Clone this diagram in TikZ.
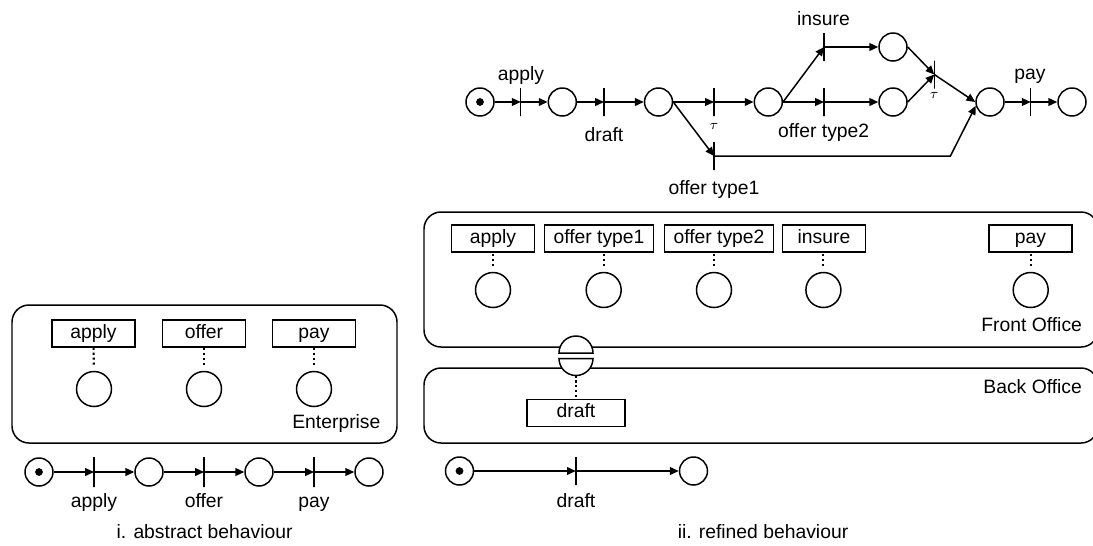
\documentclass[tikz,border=0pt]{standalone}
\usepackage{fontspec}
\setmainfont{Liberation Sans}
\usetikzlibrary{arrows.meta}
\begin{document}
\begin{tikzpicture}[x=0.02cm,y=-0.02cm,line width=0.85pt,
  every node/.style={font=\fontsize{11}{13}\selectfont},
  place/.style={circle,draw,minimum size=0.56cm,inner sep=0pt},
  bigplace/.style={place,minimum size=0.7cm},
  marked/.style={place,path picture={\fill (path picture bounding box.center) circle (2.2pt);}},
  trans/.style={draw,rectangle,minimum width=0pt,minimum height=0.56cm,inner sep=0pt,outer sep=0pt},
  activity/.style={draw,rectangle,minimum width=1.66cm,minimum height=0.54cm,inner xsep=5.2pt,inner ysep=0pt,text height=8pt,text depth=2.5pt},
  flow/.style={-{Triangle[length=5pt,width=4.4pt]}},
  link/.style={line width=1.2pt,dash pattern=on 1.2pt off 1.6pt},
  zone/.style={rounded corners=0.34cm},
  tau/.style={font=\fontsize{8}{9}\selectfont}]
\useasboundingbox (0,0) rectangle (1093,545);
\node[marked] (p0) at (480,102) {};
\node[trans] (tApply) at (520.7,102) {};
\node[place] (p1) at (562.3,102) {};
\node[trans] (tDraft) at (604,102) {};
\node[place] (p2) at (658.5,102) {};
\node[trans] (tTau) at (714,102) {};
\node[place] (p3) at (768.3,102) {};
\node[trans] (tOffer2) at (824,102) {};
\node[trans] (tInsure) at (824,47) {};
\node[place] (p4) at (893,47) {};
\node[place] (p5) at (893,102) {};
\node[trans] (tJoin) at (934.3,74.5) {};
\node[place] (p6) at (990,102) {};
\node[trans] (tPay) at (1030.7,102) {};
\node[place] (p7) at (1072,102) {};
\node[trans] (tOffer1) at (714,156) {};
\coordinate (bend) at (950.4,156);
\node[anchor=base] (lApply) at (521,80) {apply};
\node[anchor=base] (lDraft) at (604,141.7) {draft};
\node[tau] (lTau1) at (714,126) {$\tau$};
\node[anchor=base] (lInsure) at (823.5,25.5) {insure};
\node[anchor=base] (lOffer2) at (823.7,137) {offer type2};
\node[tau] (lTau2) at (934.3,95) {$\tau$};
\node[anchor=base] (lPay) at (1030,79) {pay};
\node[anchor=base] (lOffer1) at (714,194) {offer type1};
\draw[flow] (p0) -- (tApply);
\draw[flow] (tApply) -- (p1);
\draw[flow] (p1) -- (tDraft);
\draw[flow] (tDraft) -- (p2);
\draw[flow] (p2) -- (tTau);
\draw[flow] (p2.east) -- (tOffer1);
\draw[flow] (tTau) -- (p3);
\draw[flow] (p3) -- (tOffer2);
\draw[flow] (p3.east) -- (tInsure);
\draw[flow] (tInsure) -- (p4);
\draw[flow] (tOffer2) -- (p5);
\draw[flow] (p4.east) -- (tJoin);
\draw[flow] (p5.east) -- (tJoin);
\draw[flow] (tJoin) -- (p6.west);
\draw[flow] (tOffer1) -- (bend) -- (p6.195);
\draw[flow] (p6) -- (tPay);
\draw[flow] (tPay) -- (p7);
\draw[zone] (12,305) rectangle (397,443);
\draw[zone] (424,212) rectangle (1098,347);
\draw[zone] (424,368) rectangle (1098,443);
\node[activity] (eApplyBox) at (93.5,333.5) {apply};
\node[activity] (eOfferBox) at (204,333.5) {offer};
\node[activity] (ePayBox) at (314,333.5) {pay};
\node[bigplace] (eApply) at (94,389) {};
\node[bigplace] (eOffer) at (204,389) {};
\node[bigplace] (ePay) at (314,389) {};
\draw[link,shorten >=3.5pt] (eApplyBox) -- (eApply);
\draw[link,shorten >=3.5pt] (eOfferBox) -- (eOffer);
\draw[link,shorten >=3.5pt] (ePayBox) -- (ePay);
\node[anchor=base east] (lEnt) at (387,428.3) {Enterprise};
\node[activity] (fApplyBox) at (493,238.5) {apply};
\node[activity] (fOffer1Box) at (599,238.5) {offer type1};
\node[activity] (fOffer2Box) at (719,238.5) {offer type2};
\node[activity] (fInsureBox) at (824,238.5) {insure};
\node[activity] (fPayBox) at (1030.5,238.5) {pay};
\node[bigplace] (fApply) at (493,290) {};
\node[bigplace] (fOffer1) at (603.7,290) {};
\node[bigplace] (fOffer2) at (714,290) {};
\node[bigplace] (fInsure) at (823.4,290) {};
\node[bigplace] (fPay) at (1030.7,290) {};
\draw[link,shorten <=3.5pt] (fApply.north) -- (fApply.north |- fApplyBox.south);
\draw[link,shorten <=3.5pt] (fOffer1.north) -- (fOffer1.north |- fOffer1Box.south);
\draw[link,shorten <=3.5pt] (fOffer2.north) -- (fOffer2.north |- fOffer2Box.south);
\draw[link,shorten <=3.5pt] (fInsure.north) -- (fInsure.north |- fInsureBox.south);
\draw[link,shorten <=3.5pt] (fPay.north) -- (fPay.north |- fPayBox.south);
\node[anchor=base east] (lFront) at (1088.5,331.7) {Front Office};
\node[anchor=base east] (lBack) at (1088.5,393.3) {Back Office};
\filldraw[fill=white] (559,353) arc[start angle=180,end angle=0,radius=0.34cm] -- cycle;
\filldraw[fill=white] (559,358.5) arc[start angle=180,end angle=360,radius=0.34cm] -- cycle;
\coordinate (shared) at (576,375.5);
\node[activity,minimum width=1.96cm] (bDraftBox) at (576,413) {draft};
\draw[link] (shared) -- (bDraftBox);
\node[marked] (a0) at (39,472) {};
\node[trans,minimum height=0.6cm] (atApply) at (94,472) {};
\node[place] (a1) at (149,472) {};
\node[trans,minimum height=0.6cm] (atOffer) at (204,472) {};
\node[place] (a2) at (259,472) {};
\node[trans,minimum height=0.6cm] (atPay) at (314,472) {};
\node[place] (a3) at (369,472) {};
\draw[flow] (a0) -- (atApply);
\draw[flow] (atApply) -- (a1);
\draw[flow] (a1) -- (atOffer);
\draw[flow] (atOffer) -- (a2);
\draw[flow] (a2) -- (atPay);
\draw[flow] (atPay) -- (a3);
\node[anchor=base] (laApply) at (94,507) {apply};
\node[anchor=base] (laOffer) at (204,507) {offer};
\node[anchor=base] (laPay) at (314,507) {pay};
\node[anchor=base] (capAbstract) at (204.6,538) {i. abstract behaviour};
\node[marked] (r0) at (459.5,471) {};
\node[trans] (rtDraft) at (575.8,471) {};
\node[place] (r1) at (693.5,471) {};
\draw[flow] (r0) -- (rtDraft);
\draw[flow] (rtDraft) -- (r1);
\node[anchor=base] (lrDraft) at (576,507) {draft};
\node[anchor=base] (capRefined) at (763,538) {ii. refined behaviour};
\end{tikzpicture}
\end{document}
